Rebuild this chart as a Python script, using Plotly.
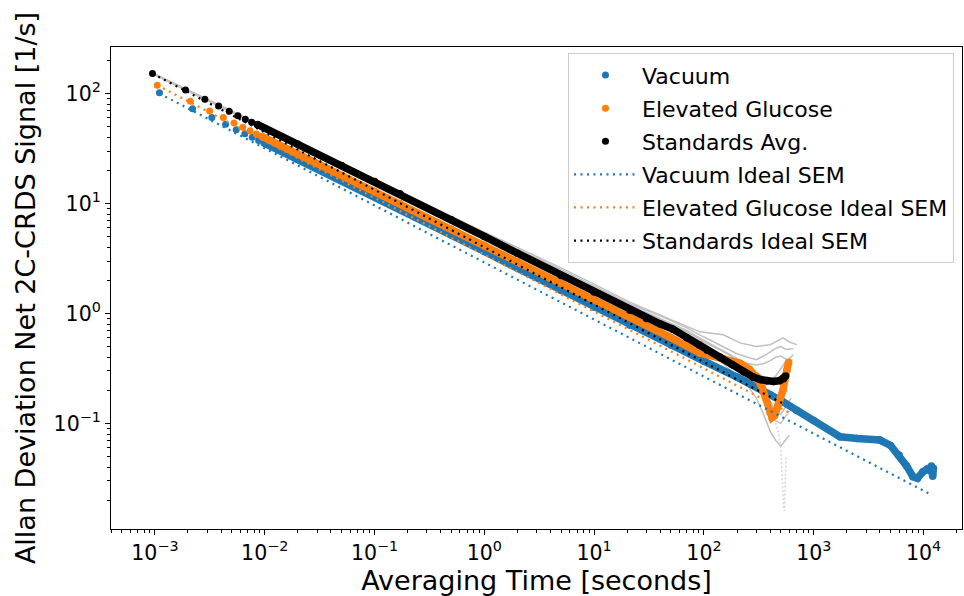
import plotly.graph_objects as go

# ---------------- data ----------------
# Vacuum: discrete early points and dense continuation
vac_tau_dots = [0.0011, 0.0022, 0.0033, 0.0044, 0.0055, 0.0066, 0.0077, 0.0088, 0.0099]
vac_val_dots = [102, 73, 60.5, 52.5, 47, 43.2, 40, 37.5, 35.5]
vac_tau = [0.0099, 0.02, 0.05, 0.1, 0.17, 0.5, 1, 2, 5, 10, 21.2, 50, 100, 200, 262, 400, 524,
           700, 1000, 1734, 2500, 4000, 5000, 6000, 7000, 8000, 8800, 9860, 10800, 11500, 11800, 12100, 12300]
vac_val = [35.5, 25.2, 16.2, 11.6, 9.0, 5.21, 3.66, 2.58, 1.62, 1.14, 0.78, 0.515, 0.368, 0.263, 0.231, 0.1825, 0.157,
           0.131, 0.106, 0.0755, 0.0728, 0.0705, 0.063, 0.0515, 0.041, 0.0327, 0.0316, 0.0363, 0.0385, 0.037, 0.041, 0.033, 0.039]

# Elevated glucose
glu_tau_dots = [0.00105, 0.0021, 0.00315, 0.0042, 0.00525, 0.0063, 0.00735, 0.0084, 0.00945]
glu_val_dots = [119, 85, 69.5, 60.5, 54, 49.5, 46, 43, 40.8]
glu_tau = [0.00945, 0.02, 0.05, 0.1, 0.17, 0.5, 1, 2, 5, 10, 21.2, 50, 92, 150, 213, 260, 300, 340,
           370, 400, 416, 440, 472, 524, 569, 590]
glu_val = [40.8, 28.3, 18.1, 12.9, 10.0, 5.87, 4.17, 2.96, 1.88, 1.336, 0.92, 0.603, 0.437, 0.39, 0.353, 0.31, 0.265, 0.21,
           0.165, 0.125, 0.113, 0.118, 0.147, 0.2, 0.305, 0.36]

# Standards average
std_tau_dots = [0.00095, 0.0019, 0.00285, 0.0038, 0.00475, 0.0057, 0.00665, 0.0076, 0.00855]
std_val_dots = [152, 108, 89, 77, 69, 63, 58.5, 55, 52.4]
std_tau = [0.00855, 0.02, 0.05, 0.1, 0.17, 0.5, 1, 2, 5, 10, 21.2, 30, 40, 52, 70, 90, 107, 140, 183, 230, 280,
           330, 374, 430, 490, 530, 555]
std_val = [52.4, 34.7, 22.2, 15.9, 12.3, 7.12, 5.02, 3.53, 2.22, 1.566, 1.07, 0.9, 0.8, 0.72, 0.6, 0.52, 0.463, 0.4,
           0.339, 0.295, 0.264, 0.25, 0.243, 0.24, 0.245, 0.255, 0.27]

# Individual standards (thin grey lines)
gry1_tau = [0.001, 0.01, 0.1, 1, 5, 10, 20, 26, 52, 92, 150, 213, 300, 400, 524, 600, 700]
gry1_val = [150, 49.5, 16.6, 5.5, 2.6, 1.85, 1.3, 1.16, 0.87, 0.68, 0.64, 0.54, 0.5, 0.52, 0.6, 0.55, 0.52]
gry2_tau = [0.001, 0.01, 0.1, 1, 5, 10, 20, 40, 70, 100, 150, 200, 250, 300, 350, 400, 450, 500, 560, 650]
gry2_val = [150, 49.2, 16.3, 5.35, 2.5, 1.78, 1.25, 0.95, 0.74, 0.61, 0.5, 0.43, 0.4, 0.38, 0.41, 0.45, 0.48, 0.5, 0.47, 0.48]
gry3_tau = [0.001, 0.01, 0.1, 1, 5, 10, 20, 40, 70, 100, 150, 200, 250, 300, 350, 400, 450, 500, 550, 600]
gry3_val = [149, 48.8, 16.1, 5.2, 2.38, 1.68, 1.2, 0.88, 0.68, 0.55, 0.45, 0.38, 0.35, 0.34, 0.35, 0.37, 0.4, 0.41, 0.39, 0.37]
gry4_tau = [0.001, 0.01, 0.1, 1, 5, 10, 20, 40, 70, 100, 150, 200, 250, 300, 350, 400, 450, 500, 550, 600]
gry4_val = [148, 48.4, 15.8, 4.95, 2.2, 1.55, 1.08, 0.8, 0.6, 0.48, 0.37, 0.3, 0.25, 0.21, 0.17, 0.13, 0.105, 0.1, 0.115, 0.13]
gry5_tau = [0.001, 0.01, 0.1, 1, 5, 10, 20, 40, 70, 100, 150, 200, 250, 300, 350, 400, 450, 500, 550, 600]
gry5_val = [148, 48.2, 15.7, 4.9, 2.18, 1.52, 1.06, 0.78, 0.58, 0.46, 0.35, 0.27, 0.22, 0.17, 0.12, 0.085, 0.07, 0.062, 0.07, 0.078]
gry6_tau = [0.001, 0.01, 0.1, 1, 5, 10, 20, 40, 70, 100, 150, 200, 250, 300, 350, 400, 450, 500, 550, 620]
gry6_val = [149, 48.6, 16.0, 5.05, 2.28, 1.6, 1.14, 0.84, 0.64, 0.51, 0.4, 0.33, 0.29, 0.25, 0.2, 0.16, 0.13, 0.12, 0.14, 0.17]
gry7_tau = [0.001, 0.01, 0.1, 1, 5, 10, 20, 40, 70, 100, 150, 200, 250, 300, 350, 400, 450, 500, 550, 650]
gry7_val = [149, 48.8, 16.2, 5.25, 2.42, 1.72, 1.22, 0.9, 0.7, 0.57, 0.46, 0.39, 0.33, 0.29, 0.26, 0.24, 0.27, 0.31, 0.36, 0.42]
gry_dot_tau = [100, 200, 300, 400, 450, 480, 500, 510, 520, 530, 540, 550, 560]
gry_dot_val = [0.5, 0.33, 0.22, 0.14, 0.1, 0.08, 0.06, 0.04, 0.025, 0.018, 0.016, 0.03, 0.05]

# Ideal SEM lines (end points)
vac_ideal_tau = [0.0011, 11900]
vac_ideal_val = [100, 0.0223]
glu_ideal_tau = [0.00105, 600]
glu_ideal_val = [119, 0.125]
std_ideal_tau = [0.00095, 550]
std_ideal_val = [152, 0.148]

# axis ticks
x_major = [1e-3, 1e-2, 1e-1, 1e0, 1e1, 1e2, 1e3, 1e4]
x_major_txt = ["10<sup>\u22123</sup>", "10<sup>\u22122</sup>", "10<sup>\u22121</sup>", "10<sup>0</sup>",
               "10<sup>1</sup>", "10<sup>2</sup>", "10<sup>3</sup>", "10<sup>4</sup>"]
y_major = [1e-1, 1e0, 1e1, 1e2]
y_major_txt = ["10<sup>\u22121</sup>", "10<sup>0</sup>", "10<sup>1</sup>", "10<sup>2</sup>"]

# ---------------- styling ----------------
BLUE = "#1f77b4"
ORANGE = "#ff7f0e"
BLACK = "#000000"
GREY = "#c0c0c0"
FONT = "DejaVu Sans"

fig = go.Figure()

grey_sets = [(gry1_tau, gry1_val), (gry2_tau, gry2_val), (gry3_tau, gry3_val), (gry4_tau, gry4_val),
             (gry5_tau, gry5_val), (gry6_tau, gry6_val), (gry7_tau, gry7_val)]
for gt, gv in grey_sets:
    fig.add_trace(go.Scatter(x=gt, y=gv, mode="lines", line=dict(color=GREY, width=1.5),
                             showlegend=False, hoverinfo="skip"))
fig.add_trace(go.Scatter(x=gry_dot_tau, y=gry_dot_val, mode="lines",
                         line=dict(color="#d6d6d6", width=1.5, dash="2px,2px"),
                         showlegend=False, hoverinfo="skip"))

series = [
    ("Vacuum", BLUE, vac_tau_dots, vac_val_dots, vac_tau, vac_val, 1),
    ("Elevated Glucose", ORANGE, glu_tau_dots, glu_val_dots, glu_tau, glu_val, 2),
    ("Standards Avg.", BLACK, std_tau_dots, std_val_dots, std_tau, std_val, 3),
]
for name, col, td, vd, tt, vv, rank in series:
    fig.add_trace(go.Scatter(x=tt, y=vv, mode="lines+markers",
                             line=dict(color=col, width=7.5),
                             marker=dict(color=col, size=7.5),
                             showlegend=False, hoverinfo="skip"))
    fig.add_trace(go.Scatter(x=td, y=vd, mode="markers", name=name,
                             marker=dict(color=col, size=7),
                             legendgroup=name, legendrank=rank))

ideals = [
    ("Vacuum Ideal SEM", BLUE, vac_ideal_tau, vac_ideal_val, 4),
    ("Elevated Glucose Ideal SEM", ORANGE, glu_ideal_tau, glu_ideal_val, 5),
    ("Standards Ideal SEM", BLACK, std_ideal_tau, std_ideal_val, 6),
]
for name, col, tt, vv, rank in ideals:
    fig.add_trace(go.Scatter(x=tt, y=vv, mode="lines", name=name,
                             line=dict(color=col, width=2.2, dash="2px,4.5px"),
                             legendgroup=name, legendrank=rank))

# minor ticks
x_minor = [m * 10.0 ** e for e in range(-4, 5) for m in range(2, 10)]
y_minor = [m * 10.0 ** e for e in range(-2, 3) for m in range(2, 10)]

axis_common = dict(
    type="log", showline=True, linecolor="black", linewidth=1.1, mirror=True,
    ticks="outside", ticklen=5, tickwidth=1.1, tickcolor="black",
    showgrid=False, zeroline=False, automargin=False,
    tickfont=dict(family=FONT, size=20.5, color="black"),
)

fig.update_xaxes(
    **axis_common, range=[-3.40, 4.35], tickmode="array", tickvals=x_major, ticktext=x_major_txt,
    minor=dict(tickmode="array", tickvals=x_minor, ticks="outside", ticklen=3, tickwidth=0.8,
               tickcolor="black", showgrid=False),
    title=dict(text="Averaging Time [seconds]", font=dict(family=FONT, size=27, color="black"), standoff=2),
)
fig.update_yaxes(
    **axis_common, range=[-1.961, 2.424], tickmode="array", tickvals=y_major, ticktext=y_major_txt,
    minor=dict(tickmode="array", tickvals=y_minor, ticks="outside", ticklen=3, tickwidth=0.8,
               tickcolor="black", showgrid=False),
    title=dict(text="Allan Deviation Net 2C-CRDS Signal [1/s]", font=dict(family=FONT, size=27, color="black"),
               standoff=10),
)

fig.update_layout(
    width=964, height=596,
    margin=dict(l=111, r=2, t=47, b=67, pad=0),
    paper_bgcolor="white", plot_bgcolor="white",
    font=dict(family=FONT, color="black"),
    showlegend=True,
    legend=dict(
        x=0.537, y=0.987, xanchor="left", yanchor="top",
        bgcolor="rgba(255,255,255,0.8)", bordercolor="#cccccc", borderwidth=1,
        font=dict(family=FONT, size=22, color="black"),
        traceorder="grouped", tracegroupgap=1.5, itemwidth=63,
    ),
)

fig.write_html("out.html")
